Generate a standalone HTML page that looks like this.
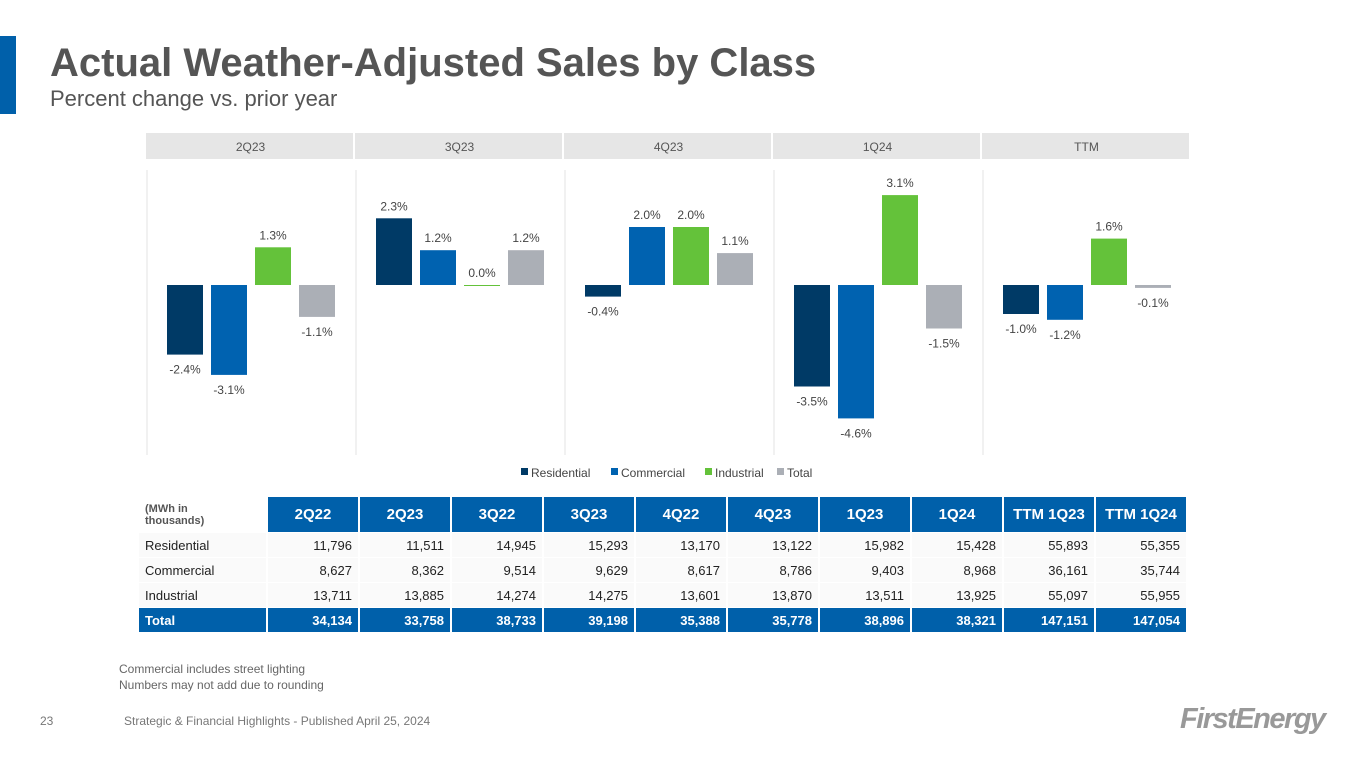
<!DOCTYPE html>
<html><head><meta charset="utf-8"><style>
body{margin:0;width:1365px;height:768px;background:#fff;font-family:"Liberation Sans",sans-serif;position:relative;overflow:hidden}
.abs{position:absolute}
table{border-collapse:separate;border-spacing:2px 1px}
td{font-size:13px;padding:0 6px;height:24px;text-align:right;color:#222;background:#fafafa}
td.l{text-align:left}
tr.h td{background:#0060aa;color:#fff;font-weight:bold;font-size:15px;text-align:center;height:35px}
tr.h td.l{background:#fff;color:#555;font-size:11px;text-align:left}
tr.t td{background:#0060aa;color:#fff;font-weight:bold}
</style></head><body>
<div class="abs" style="left:0;top:36px;width:16px;height:78px;background:#0060aa"></div>
<div class="abs" style="left:50px;top:41px;font-size:40px;font-weight:bold;color:#555">Actual Weather-Adjusted Sales by Class</div>
<div class="abs" style="left:50px;top:86px;font-size:22px;color:#555">Percent change vs. prior year</div>
<svg class="abs" style="left:0;top:0" width="1365" height="490" id="chart"></svg>
<table class="abs" style="left:137px;top:496px">
<tr class="h"><td class="l" style="width:115px">(MWh in<br>thousands)</td><td style="width:78px">2Q22</td><td style="width:78px">2Q23</td><td style="width:78px">3Q22</td><td style="width:78px">3Q23</td><td style="width:78px">4Q22</td><td style="width:78px">4Q23</td><td style="width:78px">1Q23</td><td style="width:78px">1Q24</td><td style="width:78px">TTM 1Q23</td><td style="width:78px">TTM 1Q24</td></tr>
<tr><td class="l">Residential</td><td>11,796</td><td>11,511</td><td>14,945</td><td>15,293</td><td>13,170</td><td>13,122</td><td>15,982</td><td>15,428</td><td>55,893</td><td>55,355</td></tr>
<tr><td class="l">Commercial</td><td>8,627</td><td>8,362</td><td>9,514</td><td>9,629</td><td>8,617</td><td>8,786</td><td>9,403</td><td>8,968</td><td>36,161</td><td>35,744</td></tr>
<tr><td class="l">Industrial</td><td>13,711</td><td>13,885</td><td>14,274</td><td>14,275</td><td>13,601</td><td>13,870</td><td>13,511</td><td>13,925</td><td>55,097</td><td>55,955</td></tr>
<tr class="t"><td class="l">Total</td><td>34,134</td><td>33,758</td><td>38,733</td><td>39,198</td><td>35,388</td><td>35,778</td><td>38,896</td><td>38,321</td><td>147,151</td><td>147,054</td></tr>
</table>
<div class="abs" style="left:119px;top:661px;font-size:12px;color:#666;line-height:16px">Commercial includes street lighting<br>Numbers may not add due to rounding</div>
<div class="abs" style="left:40px;top:714px;font-size:12px;color:#777">23</div>
<div class="abs" style="left:124px;top:714px;font-size:12px;color:#777">Strategic &amp; Financial Highlights - Published April 25, 2024</div>
<div class="abs" style="left:1180px;top:703px;font-size:29px;font-weight:bold;font-style:italic;color:#999;letter-spacing:-1.5px">FirstEnergy</div>
<script>
const periods=["2Q23","3Q23","4Q23","1Q24","TTM"];
const residential=[-2.4,2.3,-0.4,-3.5,-1.0];
const commercial=[-3.1,1.2,2.0,-4.6,-1.2];
const industrial=[1.3,0.0,2.0,3.1,1.6];
const total=[-1.1,1.2,1.1,-1.5,-0.1];
const seriesNames=["Residential","Commercial","Industrial","Total"];
const colors=["#003a66","#0062b0","#64c23a","#abafb6"];
const svg=document.getElementById('chart');const NS="http://www.w3.org/2000/svg";
const y0=285,ppu=29,px0=146,pw=209;
const y=v=>y0-v*ppu;
function mk(t,a,txt){const e=document.createElementNS(NS,t);for(const k in a)e.setAttribute(k,a[k]);if(txt!=null)e.textContent=txt;svg.appendChild(e);return e;}
const all=[residential,commercial,industrial,total];
periods.forEach((p,i)=>{
 const x=px0+i*pw;
 const h=mk('rect',{x:x,y:133,width:pw-2,height:26,fill:'#e6e6e6'});
 
 mk('text',{x:x+pw/2,y:151,'text-anchor':'middle','font-size':12,fill:'#555'},p);
 mk('line',{x1:x+1,x2:x+1,y1:170,y2:455,stroke:'#e3e3e3'});
 all.forEach((s,j)=>{
  const v=s[i];const bx=x+21+j*44;
  const r=mk('rect',{x:bx,y:Math.min(y(v),y0),width:36,height:Math.max(Math.abs(y(v)-y0),v===0?1:0),fill:colors[j]});
  
  
  const ly=v>=0?y(v)-8:y(v)+19;
  mk('text',{x:bx+18,y:ly,'text-anchor':'middle','font-size':12,fill:'#444'},v.toFixed(1)+'%');
 });
});
let lx=521;
seriesNames.forEach((n,j)=>{
 const r=mk('rect',{x:lx,y:468,width:7,height:7,fill:colors[j]});
 
 mk('text',{x:lx+10,y:477,'font-size':12,fill:'#444'},n);
 lx+=[90,94,72,0][j];
});
</script>
</body></html>
